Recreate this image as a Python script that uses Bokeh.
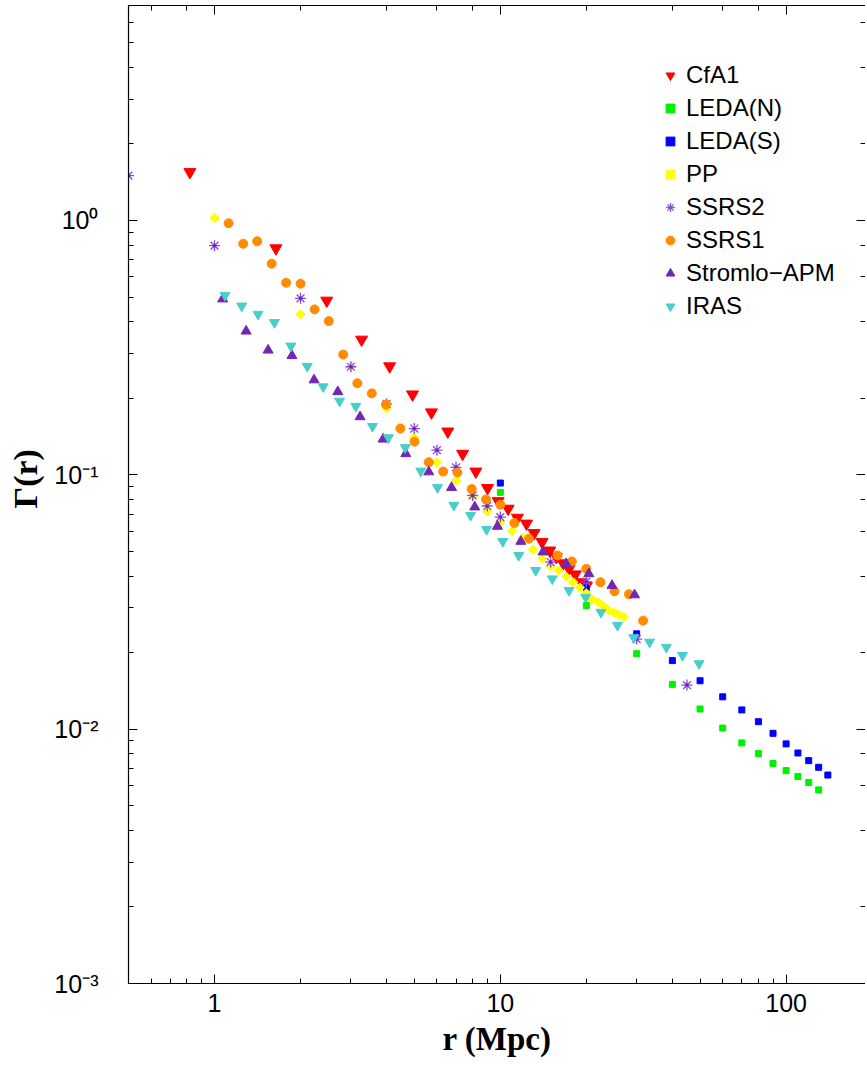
import math
from bokeh.plotting import figure
from bokeh.models import (LogAxis, LogTicker, Legend, LegendItem, Range1d, Title,
                          PrintfTickFormatter, CustomJSTickFormatter)
from bokeh.embed import file_html
from bokeh.resources import INLINE

# ---------------- data ----------------
cfa1_r = [0.82, 1.64, 2.47, 3.27, 4.10, 4.93, 5.74, 6.55, 7.38, 8.21, 9.02, 9.83,
          10.65, 11.48, 12.35, 13.13, 14.0, 14.9, 15.7, 16.6, 17.4, 18.3, 19.2, 20.0]
cfa1_g = [1.55, 0.777, 0.484, 0.340, 0.267, 0.207, 0.176, 0.148, 0.121, 0.103, 0.0887, 0.0788,
          0.0736, 0.0678, 0.0643, 0.0590, 0.0544, 0.0504, 0.0475, 0.0449, 0.0427, 0.0406, 0.0378, 0.0365]

ledan_r = [10, 20, 30, 40, 50, 60, 70, 80, 90, 100, 110, 120, 130]
ledan_g = [0.0853, 0.0306, 0.0198, 0.0150, 0.0120, 0.0101, 0.00883, 0.00801, 0.00733,
           0.00687, 0.00652, 0.00617, 0.00577]

ledas_r = [10, 20, 30, 40, 50, 60, 70, 80, 90, 100, 110, 120, 130, 140]
ledas_g = [0.0928, 0.0360, 0.0237, 0.0186, 0.0155, 0.0134, 0.0119, 0.0107, 0.00963,
           0.00875, 0.00806, 0.00752, 0.00708, 0.00660]

pp_r = [1, 2, 3, 4, 5, 6, 7, 8, 9, 10, 11, 12, 13, 14, 15, 16, 17, 18, 19, 20,
        21, 22, 23, 24, 25, 26, 27]
pp_g = [1.025, 0.428, 0.266, 0.183, 0.140, 0.112, 0.095, 0.082, 0.0718, 0.0652, 0.0601,
        0.0566, 0.0508, 0.0468, 0.0438, 0.0421, 0.0398, 0.0378, 0.0360, 0.0342, 0.0323,
        0.0316, 0.0304, 0.0293, 0.0287, 0.0282, 0.0277]

ssrs2_r = [0.5, 1, 2, 3, 4, 5, 6, 7, 8, 9, 10, 15, 20, 30, 45]
ssrs2_g = [1.50, 0.796, 0.494, 0.266, 0.190, 0.152, 0.125, 0.107, 0.083, 0.0754, 0.0682,
           0.0454, 0.0380, 0.0226, 0.0149]

ssrs1_r = [1.12, 1.26, 1.41, 1.585, 1.78, 2.0, 2.24, 2.51, 2.82, 3.16, 3.55, 3.98, 4.47,
           5.01, 5.62, 6.31, 7.08, 7.94, 8.91, 10.0, 11.2, 12.6, 15.85, 17.8, 20.0, 22.4,
           25.1, 28.2, 31.6]
ssrs1_g = [0.975, 0.810, 0.828, 0.676, 0.569, 0.564, 0.447, 0.402, 0.297, 0.229, 0.209,
           0.189, 0.152, 0.135, 0.112, 0.103, 0.102, 0.0879, 0.0800, 0.0763, 0.0646, 0.0561,
           0.0482, 0.0456, 0.0427, 0.0378, 0.0348, 0.0339, 0.0267]

stromlo_r = [1.068, 1.29, 1.54, 1.866, 2.23, 2.70, 3.23, 3.89, 4.67, 5.62, 6.75, 8.14,
             9.77, 11.8, 14.1, 17.0, 20.4, 24.6, 29.5]
stromlo_g = [0.491, 0.367, 0.309, 0.294, 0.236, 0.212, 0.169, 0.138, 0.121, 0.1026, 0.0891,
             0.0747, 0.0627, 0.0547, 0.0497, 0.0447, 0.0408, 0.0367, 0.0337]

iras_r = [1.088, 1.245, 1.42, 1.62, 1.85, 2.11, 2.40, 2.74, 3.12, 3.57, 4.06, 4.65, 5.27,
          6.03, 6.88, 7.87, 8.95, 10.2, 11.6, 13.3, 15.2, 17.4, 19.9, 22.5, 25.7, 29.3,
          33.3, 38.1, 43.4, 49.6]
iras_g = [0.508, 0.461, 0.428, 0.397, 0.321, 0.267, 0.222, 0.195, 0.186, 0.155, 0.140,
          0.128, 0.1035, 0.0891, 0.0759, 0.0693, 0.0610, 0.0547, 0.0482, 0.0421, 0.0390,
          0.0351, 0.0330, 0.0288, 0.0256, 0.0229, 0.0220, 0.0210, 0.0195, 0.0181]

x_label = "r (Mpc)"
y_label = "\u0393(r)"

# ---------------- figure ----------------
X0, X1 = 0.5, 189.6
Y0, Y1 = 1e-3, 7.0
p = figure(x_axis_type="log", y_axis_type="log",
           x_range=Range1d(X0, X1), y_range=Range1d(Y0, Y1),
           frame_width=737, frame_height=978,
           min_border_left=128, min_border_right=0, min_border_top=5, min_border_bottom=0,
           output_backend="svg", toolbar_location=None, outline_line_color=None)
p.grid.visible = False

SANS = "Liberation Sans"
SERIF = "Liberation Serif"


def style_axis(ax):
    ax.axis_line_color = "black"
    ax.axis_line_width = 1.2
    ax.major_tick_in = 9
    ax.major_tick_out = 0
    ax.minor_tick_in = 5
    ax.minor_tick_out = 0
    ax.major_tick_line_color = "black"
    ax.minor_tick_line_color = "black"
    ax.major_tick_line_width = 1
    ax.minor_tick_line_width = 1


xa = p.xaxis[0]
style_axis(xa)
xa.formatter = PrintfTickFormatter(format="%d")
xa.major_label_text_font = SANS
xa.major_label_text_font_size = "25px"
xa.major_label_text_color = "black"
xa.major_label_standoff = 10
xa.axis_label = x_label
xa.axis_label_text_font = SERIF
xa.axis_label_text_font_style = "bold"
xa.axis_label_text_font_size = "33px"
xa.axis_label_text_color = "black"
xa.axis_label_standoff = 6

# y tick labels: "10" with superscript exponent
ya = p.yaxis[0]
style_axis(ya)
ya.formatter = CustomJSTickFormatter(code="""
const e = Math.round(Math.log10(tick));
const sup = {"0": "\u2070", "1": "\u00b9", "2": "\u00b2", "3": "\u00b3", "4": "\u2074",
             "5": "\u2075", "6": "\u2076", "7": "\u2077", "8": "\u2078", "9": "\u2079",
             "-": "\u207b"};
return "10" + String(e).split("").map(c => sup[c]).join("");
""")
ya.major_label_text_font = SANS
ya.major_label_text_font_size = "25px"
ya.major_label_text_color = "black"
ya.major_label_standoff = 30

p.add_layout(Title(text=y_label, align="left", offset=475, standoff=12, vertical_align="top",
                   text_font=SERIF, text_font_style="bold", text_font_size="34px",
                   text_color="black"), "left")

top = LogAxis(ticker=LogTicker(), formatter=CustomJSTickFormatter(code="return ''"),
              major_label_standoff=0)
style_axis(top)
p.add_layout(top, "above")

right = LogAxis(ticker=LogTicker(), formatter=CustomJSTickFormatter(code="return ''"),
                major_label_standoff=0)
style_axis(right)
right.axis_line_color = None
p.add_layout(right, "right")

# ---------------- series ----------------
r_cfa = p.scatter(cfa1_r, cfa1_g, marker="inverted_triangle", size=12,
                  fill_color="#FF0000", line_color="#FF0000")
r_ln = p.scatter(ledan_r, ledan_g, marker="square", size=6,
                 fill_color="#00F000", line_color="#00F000")
r_ls = p.scatter(ledas_r, ledas_g, marker="square", size=6,
                 fill_color="#0000FF", line_color="#0000FF")
r_pp = p.scatter(pp_r, pp_g, marker="square", size=6.5, angle=math.pi / 4,
                 fill_color="#FFFF00", line_color="#FFFF00")
r_s2 = p.scatter(ssrs2_r, ssrs2_g, marker="asterisk", size=11,
                 line_color="#8A4AD8", line_width=1.3)
r_s2d = p.scatter(ssrs2_r, ssrs2_g, marker="circle", size=3.5,
                  fill_color="#6A2AB8", line_color=None)
r_s1 = p.scatter(ssrs1_r, ssrs1_g, marker="circle", size=9,
                 fill_color="#FF8C00", line_color="#FF8C00")
r_st = p.scatter(stromlo_r, stromlo_g, marker="triangle", size=10,
                 fill_color="#7226B4", line_color="#7226B4")
r_ir = p.scatter(iras_r, iras_g, marker="inverted_triangle", size=10,
                 fill_color="#48CFCC", line_color="#48CFCC")

legend = Legend(items=[
    LegendItem(label="CfA1", renderers=[r_cfa]),
    LegendItem(label="LEDA(N)", renderers=[r_ln]),
    LegendItem(label="LEDA(S)", renderers=[r_ls]),
    LegendItem(label="PP", renderers=[r_pp]),
    LegendItem(label="SSRS2", renderers=[r_s2]),
    LegendItem(label="SSRS1", renderers=[r_s1]),
    LegendItem(label="Stromlo\u2212APM", renderers=[r_st]),
    LegendItem(label="IRAS", renderers=[r_ir]),
], location=(531, 663), glyph_width=22, glyph_height=22, label_height=28, spacing=5,
    padding=0, margin=0, label_standoff=5, label_text_font=SANS, label_text_font_size="24px",
    label_text_color="black", border_line_color=None, background_fill_alpha=0)
p.add_layout(legend)

open("out.html", "w").write(file_html(p, INLINE))
